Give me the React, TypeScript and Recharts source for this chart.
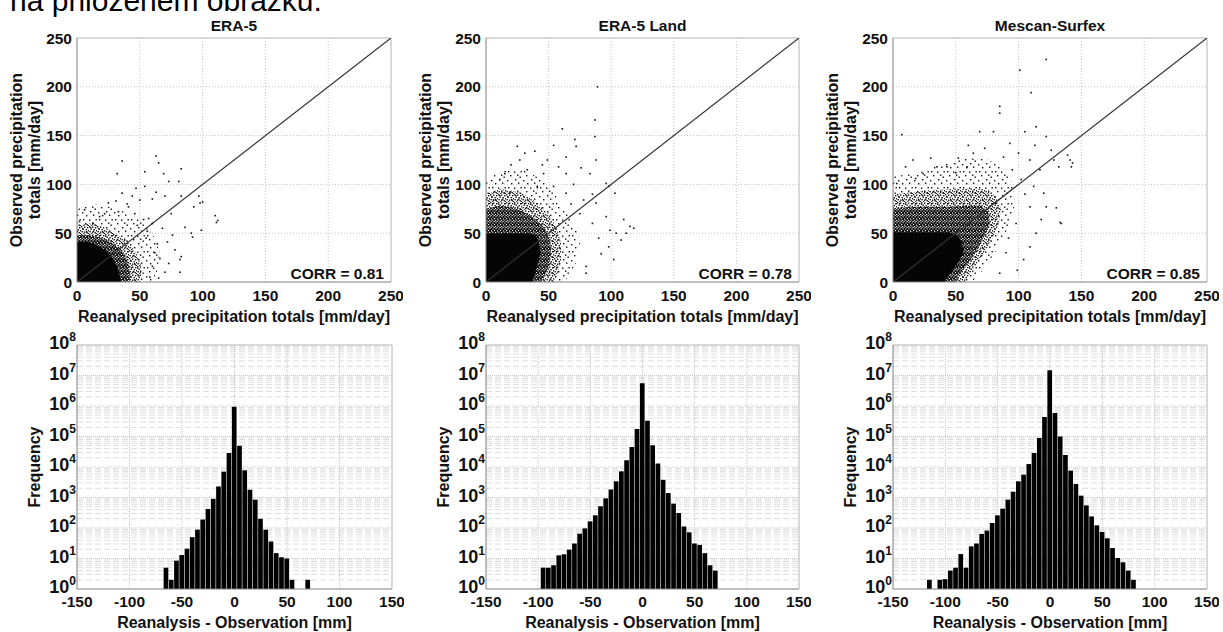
import React from 'react';
import {
  ComposedChart,
  XAxis,
  YAxis,
  CartesianGrid,
  Area,
  Line,
  Scatter,
  Bar,
  ReferenceLine,
} from 'recharts';

const FONT = "'Liberation Sans', Arial, Helvetica, sans-serif";

// ---------- text ----------
const headerText = 'na přiloženém obrázku.';
const panelTitles = ['ERA-5', 'ERA-5 Land', 'Mescan-Surfex'];
const corrValues = ['0.81', '0.78', '0.85'];
const scatterXLabel = 'Reanalysed precipitation totals [mm/day]';
const scatterYLabel1 = 'Observed precipitation';
const scatterYLabel2 = 'totals [mm/day]';
const histXLabel = 'Reanalysis - Observation [mm]';
const histYLabel = 'Frequency';

// ---------- scatter axes ----------
const scatterTicks = [0, 50, 100, 150, 200, 250];
const scatterGrid = [50, 100, 150, 200];
const diagonal = [
  [0, 0],
  [250, 250],
];

// ---------- scatter: density zones (outline of the point cloud, sparse -> solid) ----------
const era5Light = [[0, 75], [15, 80], [30, 76], [45, 68], [55, 58], [62, 45], [66, 30], [64, 12], [60, 0]];
const era5Medium = [[0, 58], [10, 60], [20, 57], [30, 50], [40, 42], [47, 30], [51, 17], [51, 6], [50, 0]];
const era5Heavy = [[0, 48], [10, 48], [20, 45], [28, 40], [35, 32], [40, 22], [42, 12], [42, 0]];
const era5Core = [[0, 41], [8, 41], [14, 39], [20, 35], [25, 30], [29, 23], [32, 15], [34, 7], [35, 0]];

const landLight = [[0, 105], [15, 115], [30, 115], [45, 105], [55, 90], [65, 70], [72, 55], [75, 40], [72, 20], [66, 5], [62, 0]];
const landMedium = [[0, 90], [10, 95], [20, 94], [30, 90], [40, 82], [50, 70], [56, 56], [60, 40], [60, 22], [57, 8], [54, 0]];
const landHeavy = [[0, 75], [10, 78], [20, 77], [30, 72], [40, 64], [47, 55], [51, 45], [52, 30], [50, 15], [46, 5], [44, 0]];
const landCore = [[0, 50], [25, 50], [35, 50], [40, 48], [42, 42], [43.5, 30], [41, 18], [39, 8], [37, 0]];

const mescanLight = [[0, 108], [20, 112], [40, 122], [60, 127], [75, 126], [88, 116], [95, 100], [97, 80], [93, 60], [86, 40], [76, 20], [67, 5], [63, 0]];
const mescanMedium = [[0, 90], [15, 92], [30, 94], [45, 95], [60, 96], [72, 95], [82, 88], [86, 75], [84, 58], [78, 42], [70, 25], [62, 10], [57, 0]];
const mescanHeavy = [[0, 75], [15, 77], [30, 77], [45, 77], [60, 78], [70, 78], [76, 72], [77, 60], [73, 48], [67, 33], [60, 20], [53, 8], [49, 0]];
const mescanCore = [[0, 51], [30, 51], [45, 51], [52, 47], [55, 40], [56, 30], [51, 18], [45, 8], [41, 0]];

// ---------- scatter: individual outlying points ----------
const era5Points = [
  [36, 124], [63, 129], [65, 122], [54, 113], [32, 111], [69, 111], [83, 116], [47, 96], [54, 98], [63, 92],
  [73, 103], [81, 103], [50, 84], [60, 85], [70, 88], [83, 88], [97, 88], [93, 77], [110, 68], [111, 61],
  [86, 56], [92, 46], [76, 48], [72, 41], [64, 39], [78, 33], [83, 26], [73, 19], [66, 24], [60, 16],
  [82, 10], [58, 5], [65, 4], [6, 74], [25, 81], [18, 67], [33, 72], [41, 77], [46, 70], [13, 60],
  [2, 62], [53, 64], [57, 65], [44, 88], [36, 91], [31, 83], [98, 81], [99, 53], [75, 70], [91, 50],
  [82, 23], [100, 82], [112, 63], [68, 55], [60, 60], [40, 80], [22, 70], [48, 58], [55, 45], [62, 30],
  [70, 10], [56, 52],
];
const landPoints = [
  [89, 200], [87, 166], [87, 149], [61, 157], [54, 140], [71, 146], [25, 139], [31, 132], [39, 134], [64, 128],
  [72, 139], [49, 125], [83, 111], [88, 125], [76, 117], [64, 111], [98, 98], [103, 91], [115, 57], [110, 64],
  [99, 53], [80, 9], [80, 16], [92, 29], [104, 50], [96, 67], [88, 81], [78, 84], [64, 91], [54, 98],
  [41, 98], [19, 91], [11, 105], [6, 84], [15, 111], [33, 115], [46, 111], [27, 125], [96, 101], [112, 50],
  [108, 43], [98, 36], [102, 23], [118, 55], [70, 100], [58, 118], [20, 120], [45, 120], [85, 60], [90, 45],
  [85, 90], [68, 80], [75, 70],
];
const mescanPoints = [
  [122, 228], [101, 217], [110, 194], [85, 180], [85, 173], [69, 154], [80, 154], [105, 154], [114, 159], [122, 149],
  [141, 125], [142, 118], [132, 118], [128, 125], [7, 151], [30, 127], [16, 125], [52, 127], [59, 118], [130, 76],
  [134, 60], [118, 64], [122, 77], [3, 101], [18, 106], [24, 111], [43, 118], [64, 132], [73, 137], [93, 142],
  [100, 132], [109, 125], [117, 115], [112, 98], [120, 91], [109, 77], [114, 50], [109, 36], [104, 23], [99, 12],
  [85, 9], [133, 61], [139, 130], [143, 122], [95, 115], [102, 105], [88, 128], [60, 140], [50, 112], [35, 118],
  [10, 118], [105, 90], [98, 60], [92, 45], [90, 30], [113, 140], [126, 135],
];

const lightZones = [era5Light, landLight, mescanLight];
const mediumZones = [era5Medium, landMedium, mescanMedium];
const heavyZones = [era5Heavy, landHeavy, mescanHeavy];
const coreZones = [era5Core, landCore, mescanCore];
const outlierPoints = [era5Points, landPoints, mescanPoints];

// ---------- histograms ----------
const histXTicks = [-150, -100, -50, 0, 50, 100, 150];
const histGridX = [-100, -50, 0, 50, 100];
const histYTicks = [1, 10, 100, 1000, 10000, 100000, 1000000, 10000000, 100000000];

const era5Bins = [-65, -60, -55, -50, -45, -40, -35, -30, -25, -20, -15, -10, -5, 0, 5, 10, 15, 20, 25, 30, 35, 40, 45, 50, 55, 70];
const era5Counts = [5, 2, 8.5, 13, 21, 50, 88, 190, 420, 900, 2300, 7000, 29000, 950000, 50000, 7800, 1800, 850, 200, 88, 36, 15, 11, 10, 2, 2];

const landBins = [-95, -90, -85, -80, -75, -70, -65, -60, -55, -50, -45, -40, -35, -30, -25, -20, -15, -10, -5, 0, 5, 10, 15, 20, 25, 30, 35, 40, 45, 50, 55, 60, 65, 70];
const landCounts = [5, 5, 6, 12.7, 13.7, 19.5, 31, 65, 97, 165, 260, 515, 935, 1830, 3400, 7200, 16500, 45000, 177000, 5600000, 330000, 52000, 13000, 3800, 1400, 630, 310, 113, 72, 31, 28, 15, 6, 4];

const mescanBins = [-115, -105, -100, -95, -90, -85, -80, -75, -70, -65, -60, -55, -50, -45, -40, -35, -30, -25, -20, -15, -10, -5, 0, 5, 10, 15, 20, 25, 30, 35, 40, 45, 50, 55, 60, 65, 70, 75, 80];
const mescanCounts = [2, 2, 2.1, 4, 5, 14, 5, 25, 31, 64, 82, 146, 260, 430, 850, 1550, 3400, 5600, 12500, 29000, 89000, 437000, 14800000, 590000, 100000, 24600, 7600, 2760, 1150, 550, 240, 122, 74, 46, 22, 10.4, 7.5, 4, 2];

const histBins = [era5Bins, landBins, mescanBins];
const histCounts = [era5Counts, landCounts, mescanCounts];

// ---------- layout ----------
const PANEL_LEFT = [77, 486, 893];
const SCATTER_W = [314, 313, 314];
const HIST_W = [315, 313, 314];
const SC_TOP = 38;
const SC_H = 244;
const HI_TOP = 345;
const HI_H = 244;
const ML = 60;
const MR = 12;
const MT = 20;
const MB = 34;

const toXY = (pts: number[][]) => pts.map(([x, y]) => ({ x, y }));

const tickStyle = { fontSize: 15.5, fontWeight: 'bold', fill: '#111', fontFamily: FONT };

const minorGrid = histYTicks.slice(0, -1).flatMap((d) => [2, 3, 4, 5, 6, 7, 8, 9].map((m) => m * d));
const majorGrid = histYTicks.slice(1, -1);

const DotShape = (props: any) => (
  <rect x={props.cx - 0.8} y={props.cy - 0.8} width={1.6} height={1.6} fill="#111" />
);

const PowTick = (props: any) => {
  const { x, y, payload } = props;
  const n = Math.round(Math.log10(payload.value));
  return (
    <text x={x} y={y + 4} textAnchor="end" fontFamily={FONT} fontWeight="bold" fontSize={18} fill="#111">
      <tspan>10</tspan>
      <tspan dy={-8} fontSize={12}>
        {n}
      </tspan>
    </text>
  );
};

const lightDots = [[1, 2], [9, 1], [12, 4.5], [5, 5], [14.5, 9], [2, 9], [8, 9.5], [11, 12.5], [4, 13], [13.5, 14.5]];
const mediumDots = [[0, 0], [3, 0.5], [6, 1], [1.5, 2.5], [4.5, 3], [7, 4], [0.5, 5], [3, 5.5], [5.5, 6], [2, 7.2], [6.8, 7]];
const heavySpecks = [[0.5, 0.5], [3.5, 0.2], [2, 2], [5, 2.5], [0.3, 3.6], [3, 4], [4.6, 4.8], [1.6, 5]];

function Patterns({ id }: { id: number }) {
  return (
    <defs>
      <pattern id={`light-${id}`} width={16} height={16} patternUnits="userSpaceOnUse">
        {lightDots.map(([x, y], k) => (
          <rect key={k} x={x} y={y} width={1.4} height={1.4} fill="#111" />
        ))}
      </pattern>
      <pattern id={`medium-${id}`} width={8} height={8} patternUnits="userSpaceOnUse">
        {mediumDots.map(([x, y], k) => (
          <rect key={k} x={x} y={y} width={1.4} height={1.4} fill="#111" />
        ))}
      </pattern>
      <pattern id={`heavy-${id}`} width={6} height={6} patternUnits="userSpaceOnUse">
        <rect x={0} y={0} width={6} height={6} fill="#0a0a0a" />
        {heavySpecks.map(([x, y], k) => (
          <rect key={k} x={x} y={y} width={1.1} height={1.1} fill="#fff" />
        ))}
      </pattern>
    </defs>
  );
}

function ScatterPanel({ i }: { i: number }) {
  const left = PANEL_LEFT[i];
  const w = SCATTER_W[i];
  return (
    <div style={{ position: 'absolute', left: left - ML, top: SC_TOP - MT }}>
      <ComposedChart width={w + ML + MR} height={SC_H + MT + MB} margin={{ top: MT, right: MR, bottom: 0, left: 0 }}>
        <Patterns id={i} />
        <CartesianGrid stroke="#c4c4c4" strokeDasharray="1 2" horizontalValues={scatterGrid} verticalValues={scatterGrid} />
        <XAxis
          type="number"
          dataKey="x"
          domain={[0, 250]}
          ticks={scatterTicks}
          interval={0}
          height={MB}
          stroke="#808080"
          tickLine={false}
          tickSize={3}
          tickMargin={5}
          tick={tickStyle}
          allowDataOverflow
        />
        <YAxis
          type="number"
          dataKey="y"
          domain={[0, 250]}
          ticks={scatterTicks}
          interval={0}
          width={ML}
          stroke="#808080"
          tickLine={false}
          tickSize={3}
          tickMargin={2}
          tick={tickStyle}
          allowDataOverflow
        />
        <ReferenceLine y={250} stroke="#b4b4b4" />
        <ReferenceLine x={250} stroke="#b4b4b4" />
        <Area data={toXY(lightZones[i])} dataKey="y" type="linear" stroke="none" fill={`url(#light-${i})`} fillOpacity={1} isAnimationActive={false} />
        <Area data={toXY(mediumZones[i])} dataKey="y" type="linear" stroke="none" fill={`url(#medium-${i})`} fillOpacity={1} isAnimationActive={false} />
        <Area data={toXY(heavyZones[i])} dataKey="y" type="linear" stroke="none" fill={`url(#heavy-${i})`} fillOpacity={1} isAnimationActive={false} />
        <Area data={toXY(coreZones[i])} dataKey="y" type="linear" stroke="none" fill="#050505" fillOpacity={1} isAnimationActive={false} />
        <Line data={toXY(diagonal)} dataKey="y" stroke="#333" strokeWidth={1.2} dot={false} isAnimationActive={false} />
        <Scatter data={toXY(outlierPoints[i])} dataKey="y" fill="#111" shape={DotShape} isAnimationActive={false} />
      </ComposedChart>
    </div>
  );
}

function HistPanel({ i }: { i: number }) {
  const left = PANEL_LEFT[i];
  const w = HIST_W[i];
  const data = histBins[i].map((x, k) => ({ x, y: histCounts[i][k] }));
  return (
    <div style={{ position: 'absolute', left: left - ML, top: HI_TOP - MT }}>
      <ComposedChart data={data} width={w + ML + MR} height={HI_H + MT + MB} margin={{ top: MT, right: MR, bottom: 0, left: 0 }}>
        <CartesianGrid stroke="#dedede" strokeDasharray="6 3" horizontalValues={minorGrid} vertical={false} />
        <CartesianGrid stroke="#c8c8c8" strokeDasharray="1 1" horizontalValues={majorGrid} verticalValues={histGridX} />
        <XAxis
          type="number"
          dataKey="x"
          domain={[-150, 150]}
          ticks={histXTicks}
          interval={0}
          height={MB}
          stroke="#808080"
          tickLine={false}
          tickSize={3}
          tickMargin={4}
          tick={tickStyle}
          allowDataOverflow
        />
        <YAxis
          type="number"
          dataKey="y"
          scale="log"
          domain={[1, 100000000]}
          ticks={histYTicks}
          interval={0}
          width={ML}
          stroke="#808080"
          tickLine={false}
          tickSize={0}
          tickMargin={1}
          tick={<PowTick />}
          allowDataOverflow
        />
        <ReferenceLine y={100000000} stroke="#b4b4b4" />
        <ReferenceLine x={150} stroke="#b4b4b4" />
        <Bar dataKey="y" fill="#000" barSize={4.7} isAnimationActive={false} />
      </ComposedChart>
    </div>
  );
}

function Overlay() {
  return (
    <svg width={1223} height={632} style={{ position: 'absolute', left: 0, top: 0, pointerEvents: 'none' }}>
      <text x={10} y={11} fontFamily={FONT} fontSize={30} fill="#000">
        {headerText}
      </text>
      {PANEL_LEFT.map((left, i) => {
        const cx = left + SCATTER_W[i] / 2;
        const hcx = left + HIST_W[i] / 2;
        const right = left + SCATTER_W[i];
        return (
          <g key={i} fontFamily={FONT} fontWeight="bold" fill="#111">
            <text x={cx} y={31} textAnchor="middle" fontSize={15.5}>
              {panelTitles[i]}
            </text>
            <text x={right - 7} y={279} textAnchor="end" fontSize={15.5}>
              {`CORR = ${corrValues[i]}`}
            </text>
            <text x={cx} y={322} textAnchor="middle" fontSize={16}>
              {scatterXLabel}
            </text>
            <text transform={`translate(${left - 55}, ${SC_TOP + SC_H / 2}) rotate(-90)`} textAnchor="middle" fontSize={16}>
              {scatterYLabel1}
            </text>
            <text transform={`translate(${left - 37.5}, ${SC_TOP + SC_H / 2}) rotate(-90)`} textAnchor="middle" fontSize={16}>
              {scatterYLabel2}
            </text>
            <text x={hcx} y={628} textAnchor="middle" fontSize={16}>
              {histXLabel}
            </text>
            <text transform={`translate(${left - 37}, ${HI_TOP + HI_H / 2}) rotate(-90)`} textAnchor="middle" fontSize={16}>
              {histYLabel}
            </text>
          </g>
        );
      })}
    </svg>
  );
}

export default function App() {
  return (
    <div style={{ position: 'absolute', left: 0, top: 0, width: 1223, height: 632, background: '#fff', overflow: 'hidden' }}>
      {[0, 1, 2].map((i) => (
        <ScatterPanel key={`s${i}`} i={i} />
      ))}
      {[0, 1, 2].map((i) => (
        <HistPanel key={`h${i}`} i={i} />
      ))}
      <Overlay />
    </div>
  );
}
